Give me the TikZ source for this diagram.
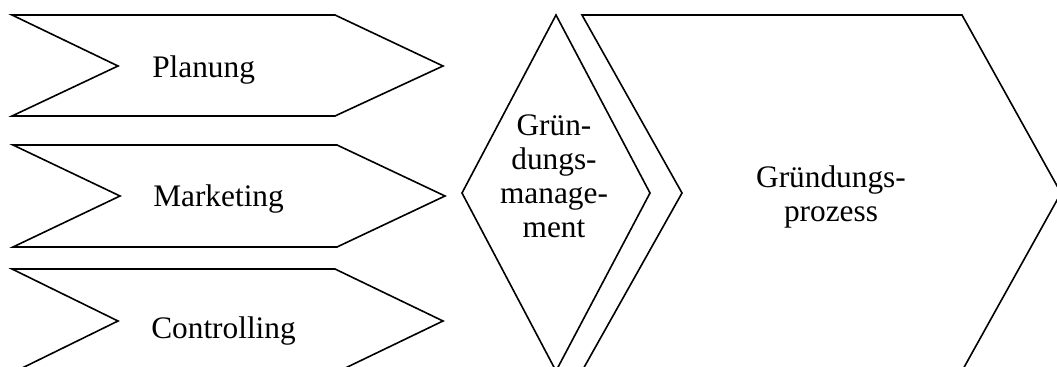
\documentclass[tikz,border=0pt]{standalone}
\usepackage{fontspec}
\setmainfont{Liberation Serif}
\begin{document}
\begin{tikzpicture}[x=0.75pt,y=0.75pt,yscale=-1,xscale=1,
        pfeil/.style={line width=1.2pt},
        txt/.style={inner sep=0pt, font=\fontsize{23.5}{25.5}\selectfont},
        block/.style={txt, text width=150pt, align=center}]
        \useasboundingbox (0,0) rectangle (1057,367);
        \clip (0,0) rectangle (1057,367);
        %Shape: Pfeil Planung
        \draw [pfeil] (12,15) -- (335,15) -- (443,66) -- (335,116) -- (12,116) -- (118,66) -- cycle ;
        %Shape: Pfeil Marketing
        \draw [pfeil] (13,145) -- (337,145) -- (445,196) -- (337,247) -- (13,247) -- (120,196) -- cycle ;
        %Shape: Pfeil Controlling
        \draw [pfeil] (12,269) -- (335,269) -- (443,321) -- (335,373) -- (12,373) -- (118,321) -- cycle ;
        %Shape: Raute
        \draw [pfeil] (556,15) -- (650,193) -- (556,371) -- (462,193) -- cycle ;
        %Shape: Pfeil Prozess
        \draw [pfeil] (582,15) -- (962,15) -- (1061,193) -- (962,371) -- (582,371) -- (682,193) -- cycle ;

        % Text Node
        \node (plan) [txt, anchor=base west] at (152,78) {Planung};
        % Text Node
        \node (mark) [txt, anchor=base west] at (153,207) {Marketing};
        % Text Node
        \node (ctrl) [txt, anchor=base west] at (151,338) {Controlling};
        % Text Node
        \node (gm) [block] at (554,176) {Grün-\\dungs-\\manage-\\ment};
        % Text Node
        \node (gp) [block] at (831,197) {Gründungs-\\prozess};
\end{tikzpicture}
\end{document}
